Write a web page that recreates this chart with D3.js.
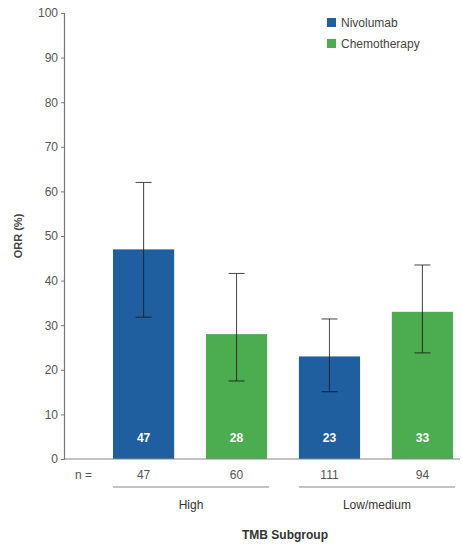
<!DOCTYPE html>
<html>
<head>
<meta charset="utf-8">
<script src="https://cdn.jsdelivr.net/npm/d3@7"></script>
<style>
  body { margin: 0; background: #fff; }
  svg { font-family: "Liberation Sans", Arial, sans-serif; }
</style>
</head>
<body>
<svg id="chart" width="462" height="546"></svg>
<script>
// ORR by TMB subgroup
const groups = ["High", "Low/medium"];
const treatments = ["Nivolumab", "Chemotherapy"];
const barGroup = ["High", "High", "Low/medium", "Low/medium"];
const barTreatment = ["Nivolumab", "Chemotherapy", "Nivolumab", "Chemotherapy"];
const orr = [47, 28, 23, 33];
const ciLow = [31.8, 17.5, 15.1, 23.8];
const ciHigh = [62, 41.6, 31.4, 43.5];
const nValues = [47, 60, 111, 94];
const yTicks = [0, 10, 20, 30, 40, 50, 60, 70, 80, 90, 100];
const colors = ["#1f5e9f", "#4bac50"];

const svg = d3.select("#chart");
const margin = { left: 64, top: 13, right: 2, bottom: 87 };
const width = 462, height = 546;

const y = d3.scaleLinear().domain([0, 100]).range([height - margin.bottom, margin.top]);
const x = d3.scaleBand().domain(d3.range(orr.length)).range([113, 453]).paddingInner(0.342).paddingOuter(0);
const color = d3.scaleOrdinal().domain(treatments).range(colors);

// y axis
const yAxis = svg.append("g")
  .attr("transform", `translate(${margin.left},0)`)
  .call(d3.axisLeft(y).tickValues(yTicks).tickSize(3).tickPadding(3));
yAxis.select(".domain").attr("stroke", "#777").attr("stroke-width", 1.2);
yAxis.selectAll(".tick line").attr("stroke", "#777");
yAxis.selectAll(".tick text").attr("fill", "#555").style("font-size", "12px");

svg.append("text")
  .attr("transform", `translate(22,${y(50)}) rotate(-90)`)
  .attr("text-anchor", "middle")
  .attr("fill", "#444")
  .style("font-size", "11px")
  .style("font-weight", "bold")
  .text("ORR (%)");

// bars
const idx = d3.range(orr.length);
svg.append("g").selectAll("rect").data(idx).join("rect")
  .attr("x", i => x(i))
  .attr("width", x.bandwidth())
  .attr("y", i => y(orr[i]))
  .attr("height", i => y(0) - y(orr[i]))
  .attr("fill", i => color(barTreatment[i]));

// baseline
svg.append("line")
  .attr("x1", margin.left).attr("x2", width - 2)
  .attr("y1", y(0)).attr("y2", y(0))
  .attr("stroke", "#888").attr("stroke-width", 1.2);

// error bars
const eb = svg.append("g").attr("stroke", "#1a1a1a").attr("stroke-opacity", 0.75).attr("stroke-width", 1.1);
idx.forEach(i => {
  const cx = x(i) + x.bandwidth() / 2;
  eb.append("line").attr("x1", cx).attr("x2", cx).attr("y1", y(ciLow[i])).attr("y2", y(ciHigh[i]));
  eb.append("line").attr("x1", cx - 8).attr("x2", cx + 8).attr("y1", y(ciHigh[i])).attr("y2", y(ciHigh[i]));
  eb.append("line").attr("x1", cx - 8).attr("x2", cx + 8).attr("y1", y(ciLow[i])).attr("y2", y(ciLow[i]));
});

// value labels inside bars
svg.append("g").selectAll("text").data(idx).join("text")
  .attr("x", i => x(i) + x.bandwidth() / 2)
  .attr("y", y(0) - 17)
  .attr("text-anchor", "middle")
  .attr("fill", "#fff")
  .style("font-size", "12px")
  .style("font-weight", "bold")
  .text(i => orr[i]);

// n row
svg.append("text")
  .attr("x", 75).attr("y", y(0) + 20)
  .attr("fill", "#555").style("font-size", "12px")
  .text("n =");
svg.append("g").selectAll("text").data(idx).join("text")
  .attr("x", i => x(i) + x.bandwidth() / 2)
  .attr("y", y(0) + 20)
  .attr("text-anchor", "middle")
  .attr("fill", "#555").style("font-size", "12px")
  .text(i => nValues[i]);

// group brackets and labels
groups.forEach(g => {
  const members = idx.filter(i => barGroup[i] === g);
  const x0 = x(members[0]);
  const x1 = x(members[members.length - 1]) + x.bandwidth() + 2;
  svg.append("line")
    .attr("x1", x0).attr("x2", x1)
    .attr("y1", y(0) + 28).attr("y2", y(0) + 28)
    .attr("stroke", "#888").attr("stroke-width", 1.2);
  svg.append("text")
    .attr("x", (x0 + x1) / 2).attr("y", y(0) + 50)
    .attr("text-anchor", "middle")
    .attr("fill", "#333").style("font-size", "12px")
    .text(g);
});

svg.append("text")
  .attr("x", 285).attr("y", 539)
  .attr("text-anchor", "middle")
  .attr("fill", "#333").style("font-size", "12px").style("font-weight", "bold")
  .text("TMB Subgroup");

// legend
const legend = svg.append("g").attr("transform", "translate(327,18)");
treatments.forEach((t, i) => {
  const row = legend.append("g").attr("transform", `translate(0,${i * 21})`);
  row.append("rect").attr("width", 9).attr("height", 9).attr("fill", color(t));
  row.append("text").attr("x", 14).attr("y", 9)
    .attr("fill", "#444").style("font-size", "12px").text(t);
});
</script>
</body>
</html>
